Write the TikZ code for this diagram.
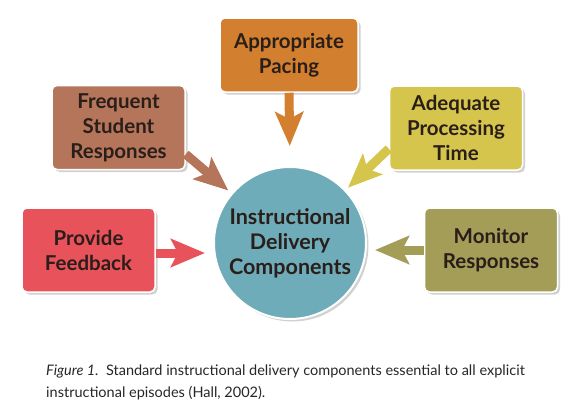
\documentclass[tikz,border=0pt]{standalone}
\usepackage{fontspec}
\setmainfont{Lato}
\usetikzlibrary{arrows.meta,shadows}
\definecolor{cOrange}{HTML}{D2802F}
\definecolor{cBrown}{HTML}{B5755A}
\definecolor{cYellow}{HTML}{D6C54C}
\definecolor{cRed}{HTML}{E8525A}
\definecolor{cOlive}{HTML}{A39D58}
\definecolor{cTeal}{HTML}{6EACB9}
\definecolor{cText}{HTML}{2A1E1A}
\begin{document}
\begin{tikzpicture}[x=1pt,y=-1pt,
  box/.style={draw=white,line width=1.5pt,rounded corners=5pt,
    drop shadow={shadow xshift=2.5pt,shadow yshift=-2.5pt,fill=black!30,opacity=0.6},
    align=center,text=cText,font=\fontsize{20.5}{25}\selectfont\bfseries,
    minimum width=133pt,minimum height=84pt,inner sep=0pt},
  blockarrow/.style={line width=9pt,-{Stealth[length=34pt,width=28pt,inset=7pt]}},
  captext/.style={anchor=base west,inner sep=0pt,font=\fontsize{14.5}{22}\selectfont,text=black!85}
]
\useasboundingbox (0,0) rectangle (573,413);
\node[box,fill=cOrange,minimum width=138pt,minimum height=74pt] (pace) at (289,55) {Appropriate\\Pacing};
\node[box,fill=cBrown] (freq) at (118.5,127.5) {Frequent\\Student\\Responses};
\node[box,fill=cYellow] (adeq) at (456,128) {Adequate\\Processing\\Time};
\node[box,fill=cRed] (feed) at (88.5,250) {Provide\\Feedback};
\node[box,fill=cOlive] (mon) at (491,250) {Monitor\\Responses};
\node[circle,draw=white,line width=2pt,fill=cTeal,minimum size=152pt,inner sep=0pt,
  drop shadow={shadow xshift=2.5pt,shadow yshift=-2.5pt,fill=black!30,opacity=0.6},
  align=center,text=cText,font=\fontsize{21.5}{25}\selectfont\bfseries] (circ) at (290,243)
  {Instructional\\Delivery\\Components};
\draw[blockarrow,cOrange,shorten >=20pt] (pace.south) -- (circ.north);
\draw[blockarrow,cBrown,shorten >=4pt] (freq.south east) ++(0,-16) coordinate (fs) (fs) -- (circ);
\draw[blockarrow,cYellow,shorten >=3pt] (adeq.south west) ++(0,-22) coordinate (as) (as) -- (circ);
\draw[blockarrow,cRed,shorten >=8pt] (feed.east) ++(0,3) coordinate (fe) (fe) -- (fe -| circ.west);
\draw[blockarrow,cOlive,shorten >=8pt] (mon.west) -- (mon.west -| circ.east);
\node[captext] (cap1) at (46,375)
  {\textit{Figure 1.}\ \ Standard instructional delivery components essential to all explicit};
\node[captext] (cap2) at (46,397) {instructional episodes (Hall, 2002).};
\end{tikzpicture}
\end{document}
